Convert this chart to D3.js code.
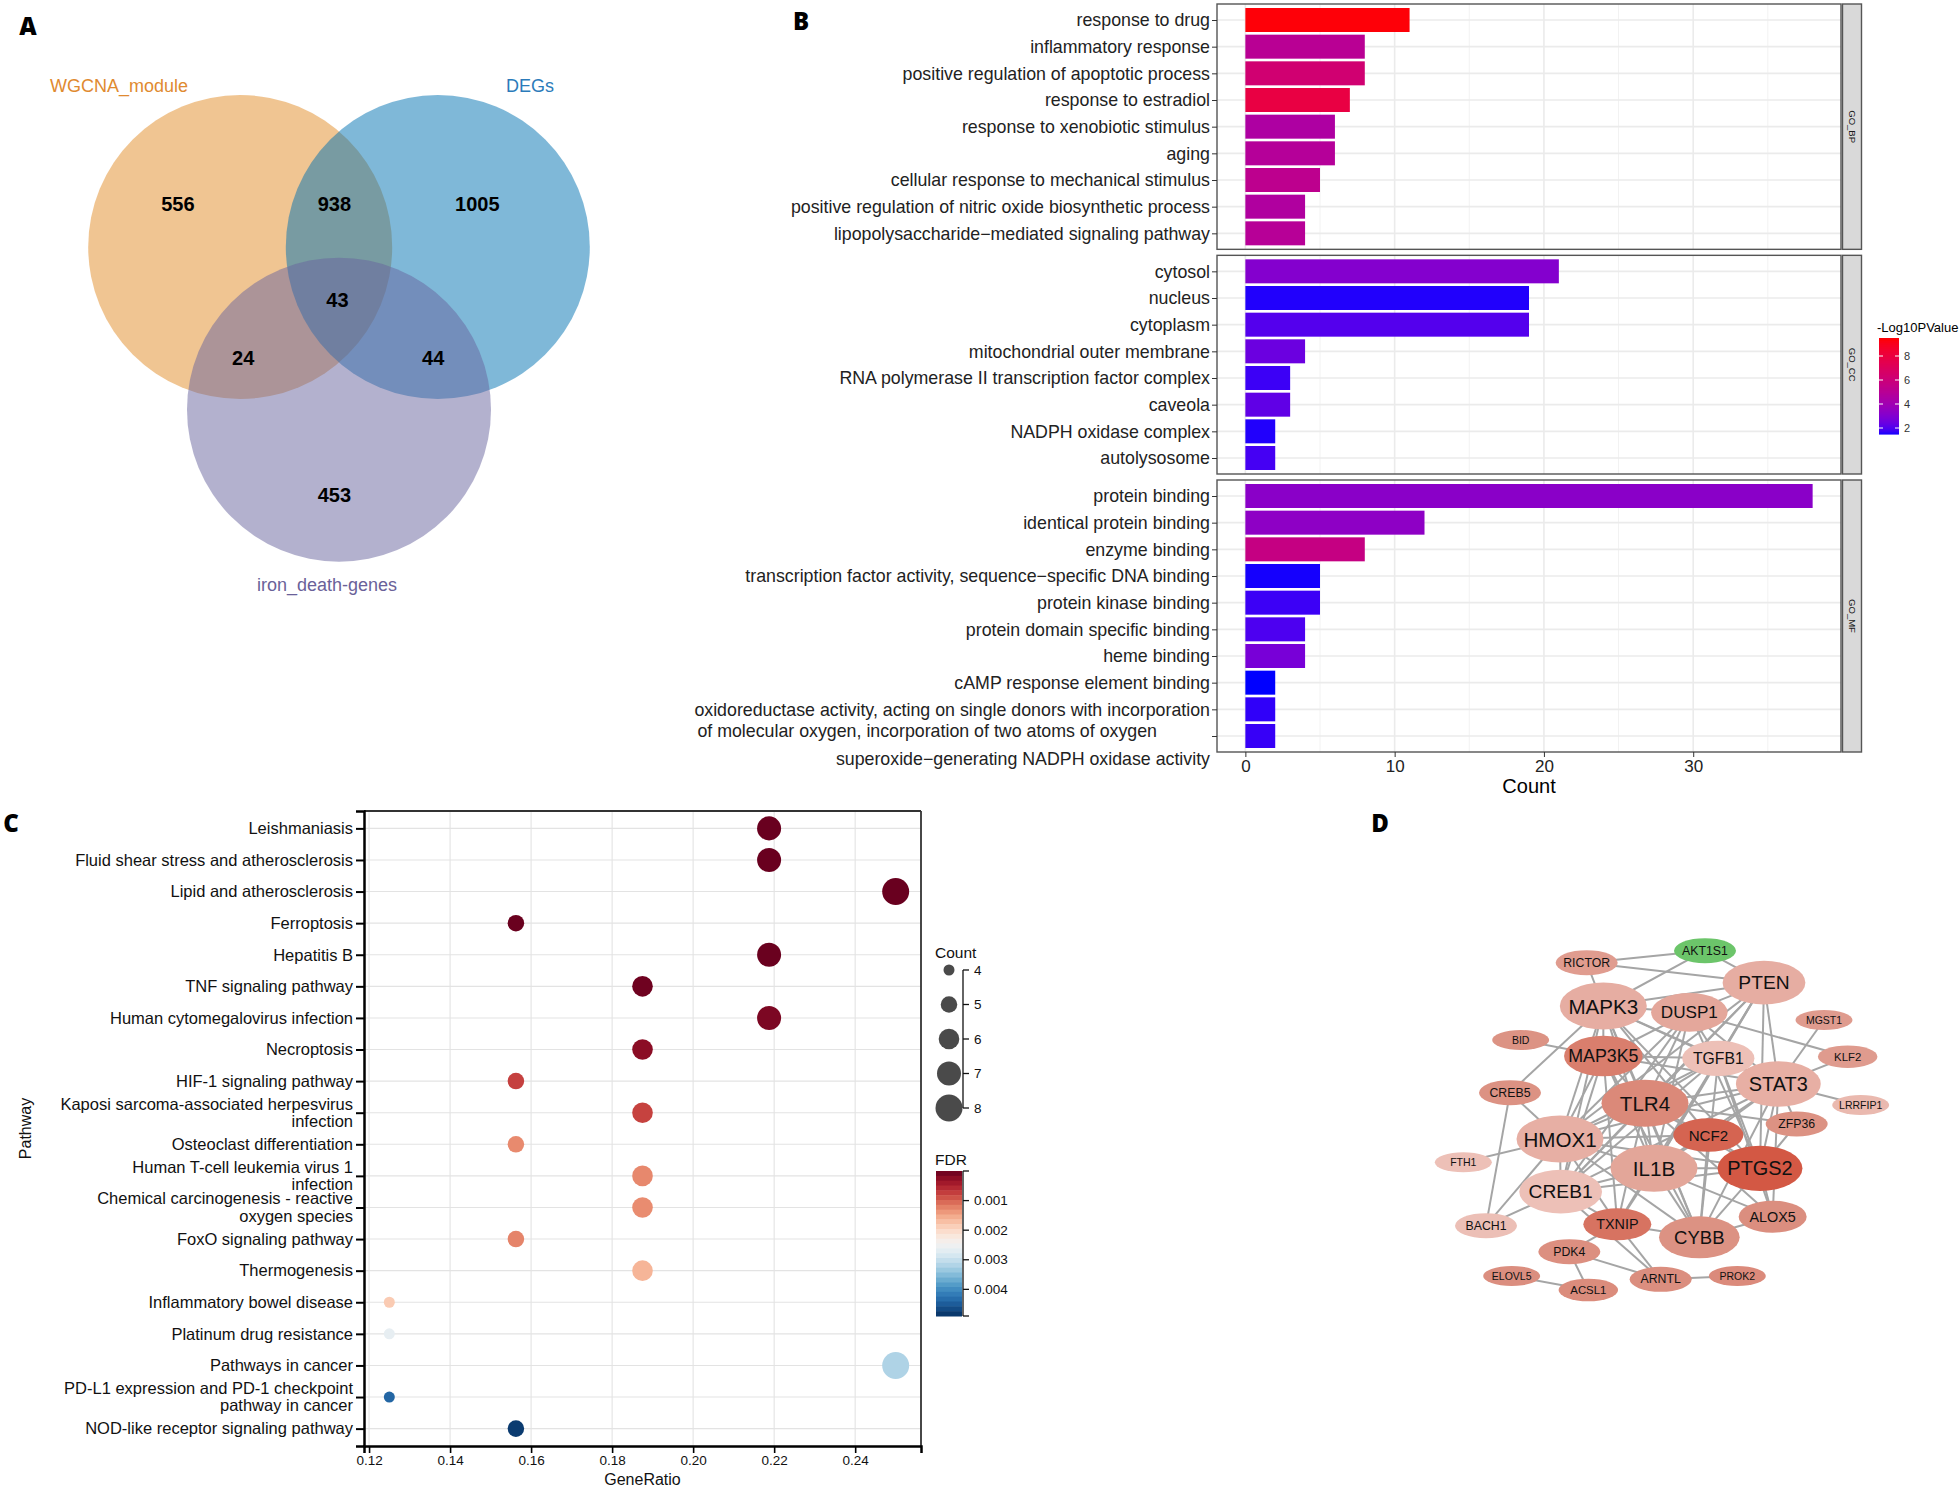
<!DOCTYPE html>
<html><head><meta charset="utf-8">
<script src="https://cdn.jsdelivr.net/npm/d3@7/dist/d3.min.js"></script>
<style>body{margin:0;background:#fff}svg{display:block}</style>
</head><body>
<svg id="chart" width="1960" height="1487"></svg>
<script>
// ================= DATA =================
// Panel A (Venn)
const vennSetNames = ["WGCNA_module", "DEGs", "iron_death-genes"];
const vennRegionCounts = [556, 938, 1005, 24, 43, 44, 453];
// Panel B (GO enrichment)
const bpTerms = ["response to drug","inflammatory response","positive regulation of apoptotic process","response to estradiol","response to xenobiotic stimulus","aging","cellular response to mechanical stimulus","positive regulation of nitric oxide biosynthetic process","lipopolysaccharide\u2212mediated signaling pathway"];
const bpCount = [11, 8, 8, 7, 6, 6, 5, 4, 4];
const bpLogP = [9.4, 5.1, 6.3, 7.9, 4.6, 4.9, 5.3, 4.7, 5.0];
const ccTerms = ["cytosol","nucleus","cytoplasm","mitochondrial outer membrane","RNA polymerase II transcription factor complex","caveola","NADPH oxidase complex","autolysosome"];
const ccCount = [21, 19, 19, 4, 3, 3, 2, 2];
const ccLogP = [3.1, 1.6, 2.1, 2.5, 1.8, 2.3, 1.6, 1.9];
const mfTerms = ["protein binding","identical protein binding","enzyme binding","transcription factor activity, sequence\u2212specific DNA binding","protein kinase binding","protein domain specific binding","heme binding","cAMP response element binding","oxidoreductase activity, acting on single donors with incorporation\nof molecular oxygen, incorporation of two atoms of oxygen","superoxide\u2212generating NADPH oxidase activity"];
const mfCount = [38, 12, 8, 5, 5, 4, 4, 2, 2, 2];
const mfLogP = [3.3, 3.4, 5.7, 1.55, 1.8, 2.0, 2.8, 1.5, 1.7, 1.75];
const countTicks = [0, 10, 20, 30];
const logpTicks = [2, 4, 6, 8];
// Panel C (KEGG dot plot)
const pathways = ["Leishmaniasis","Fluid shear stress and atherosclerosis","Lipid and atherosclerosis","Ferroptosis","Hepatitis B","TNF signaling pathway","Human cytomegalovirus infection","Necroptosis","HIF-1 signaling pathway","Kaposi sarcoma-associated herpesvirus\ninfection","Osteoclast differentiation","Human T-cell leukemia virus 1\ninfection","Chemical carcinogenesis - reactive\noxygen species","FoxO signaling pathway","Thermogenesis","Inflammatory bowel disease","Platinum drug resistance","Pathways in cancer","PD-L1 expression and PD-1 checkpoint\npathway in cancer","NOD-like receptor signaling pathway"];
const geneRatio = [0.21875,0.21875,0.25,0.15625,0.21875,0.1875,0.21875,0.1875,0.15625,0.1875,0.15625,0.1875,0.1875,0.15625,0.1875,0.125,0.125,0.25,0.125,0.15625];
const pathwayCount = [7,7,8,5,7,6,7,6,5,6,5,6,6,5,6,4,4,8,4,5];
const pathwayFDR = [0.00001,0.00001,0.00001,0.00002,0.00002,0.00005,0.00014,0.00024,0.00076,0.00077,0.00128,0.00127,0.0013,0.00124,0.00162,0.00183,0.00264,0.0032,0.0044,0.0048];
const ratioTicks = [0.12,0.14,0.16,0.18,0.20,0.22,0.24];
const countLegendValues = [4,5,6,7,8];
const fdrTicks = [0.001,0.002,0.003,0.004];
const fdrMax = 0.0049;
// Panel D (PPI network)
const geneNames = ["AKT1S1","RICTOR","PTEN","MAPK3","DUSP1","MGST1","BID","MAP3K5","TGFB1","KLF2","CREB5","STAT3","TLR4","LRRFIP1","ZFP36","NCF2","HMOX1","FTH1","IL1B","PTGS2","CREB1","ALOX5","BACH1","TXNIP","CYBB","PDK4","ELOVL5","ACSL1","ARNTL","PROK2"];
const geneDegree = [3,3,15,17,12,1,1,13,10,2,3,16,17,1,3,9,17,1,17,16,15,8,3,8,14,3,1,2,3,1];
const geneScore = [-1,0.4,0.24,0.24,0.3,0.41,0.49,0.66,0.06,0.41,0.5,0.22,0.57,0.125,0.5,0.86,0.22,0.06,0.31,0.95,0.06,0.53,0.07,0.74,0.5,0.52,0.53,0.55,0.53,0.56];
const geneLinks = [
 ["RICTOR","AKT1S1"],["RICTOR","PTEN"],["RICTOR","MAPK3"],["AKT1S1","MAPK3"],["AKT1S1","PTEN"],["BID","MAP3K5"],
 ["CREB5","MAPK3"],["CREB5","HMOX1"],["CREB5","BACH1"],["MGST1","STAT3"],["KLF2","STAT3"],["KLF2","DUSP1"],
 ["LRRFIP1","STAT3"],["ZFP36","STAT3"],["ZFP36","PTGS2"],["ZFP36","TLR4"],["FTH1","HMOX1"],["BACH1","HMOX1"],
 ["BACH1","CREB1"],["CREB1","ARNTL"],["TXNIP","PDK4"],["TXNIP","ARNTL"],["TXNIP","CYBB"],["PDK4","ACSL1"],
 ["PDK4","ARNTL"],["ELOVL5","ACSL1"],["ARNTL","PROK2"],
 ["MAPK3","DUSP1"],["MAPK3","PTEN"],["MAPK3","TGFB1"],["MAPK3","STAT3"],["MAPK3","TLR4"],["MAPK3","MAP3K5"],
 ["MAPK3","HMOX1"],["MAPK3","IL1B"],["MAPK3","PTGS2"],["MAPK3","CREB1"],["MAPK3","NCF2"],["MAPK3","CYBB"],
 ["DUSP1","PTEN"],["DUSP1","TLR4"],["DUSP1","IL1B"],["DUSP1","HMOX1"],["DUSP1","STAT3"],["DUSP1","PTGS2"],
 ["DUSP1","CREB1"],["DUSP1","TGFB1"],["DUSP1","MAP3K5"],
 ["PTEN","STAT3"],["PTEN","TGFB1"],["PTEN","TLR4"],["PTEN","IL1B"],["PTEN","HMOX1"],["PTEN","PTGS2"],
 ["PTEN","CREB1"],["PTEN","TXNIP"],
 ["MAP3K5","TLR4"],["MAP3K5","IL1B"],["MAP3K5","HMOX1"],["MAP3K5","TXNIP"],["MAP3K5","STAT3"],["MAP3K5","CYBB"],
 ["MAP3K5","CREB1"],["MAP3K5","TGFB1"],
 ["TGFB1","STAT3"],["TGFB1","TLR4"],["TGFB1","IL1B"],["TGFB1","HMOX1"],["TGFB1","PTGS2"],["TGFB1","CYBB"],
 ["TGFB1","CREB1"],["TGFB1","ALOX5"],
 ["STAT3","TLR4"],["STAT3","IL1B"],["STAT3","HMOX1"],["STAT3","PTGS2"],["STAT3","CREB1"],["STAT3","NCF2"],
 ["STAT3","ALOX5"],["STAT3","CYBB"],
 ["TLR4","IL1B"],["TLR4","HMOX1"],["TLR4","PTGS2"],["TLR4","NCF2"],["TLR4","CYBB"],["TLR4","CREB1"],
 ["TLR4","TXNIP"],["TLR4","ALOX5"],
 ["NCF2","CYBB"],["NCF2","IL1B"],["NCF2","HMOX1"],["NCF2","PTGS2"],
 ["HMOX1","IL1B"],["HMOX1","PTGS2"],["HMOX1","CREB1"],["HMOX1","TXNIP"],["HMOX1","CYBB"],
 ["IL1B","PTGS2"],["IL1B","CREB1"],["IL1B","TXNIP"],["IL1B","CYBB"],["IL1B","ALOX5"],
 ["PTGS2","CYBB"],["PTGS2","ALOX5"],["PTGS2","CREB1"],["CREB1","TXNIP"],["CYBB","ALOX5"]
];
// Network layout coordinates (Cytoscape layout units)
const geneLayoutX = [915,560,1092,610,868,1272,362,610,955,1343,330,1135,735,1382,1190,925,480,190,762,1080,482,1118,258,652,898,508,335,565,782,1012];
const geneLayoutY = [92,128,188,258,277,300,360,408,415,410,518,492,550,555,612,645,657,727,745,745,815,890,917,913,952,995,1068,1110,1078,1068];

// ================= DRAWING =================
const FONT = '"Liberation Sans", Arial, Helvetica, sans-serif';
const svg = d3.select("#chart").attr("font-family", FONT);

// Panel letters
const panelLetters = [["A",28,25],["B",801,20],["C",11,822],["D",1380,822]];
svg.selectAll("text.letter").data(panelLetters).join("text")
  .attr("class","letter").attr("x",d=>d[1]).attr("y",d=>d[2])
  .attr("text-anchor","middle").attr("dominant-baseline","central")
  .attr("font-family",'"Open Sans","DejaVu Sans",sans-serif').attr("font-weight",800)
  .attr("font-size",24).attr("fill","#000").text(d=>d[0]);

// ---------- Panel A ----------
(function(){
  const vennColors = ["#E18B25","#0072B2","#67639D"];
  const labelColors = ["#E08A30","#2B7BBA","#6A6199"];
  const circleLayout = [[-0.65,0],[0.65,0],[0,1.07]];
  const regionLayout = [[-1.06,-0.28],[-0.03,-0.28],[0.91,-0.28],[-0.63,0.73],[-0.01,0.35],[0.62,0.73],[-0.03,1.63]];
  const labelLayout = [[-1.447,-1.059],[1.257,-1.059],[-0.079,2.224]];
  const vx = d3.scaleLinear().domain([-1,1]).range([187,491]);
  const vy = d3.scaleLinear().domain([-1,1]).range([95,399]);
  const r = vx(1)-vx(0);
  const g = svg.append("g");
  g.selectAll("circle").data(vennSetNames).join("circle")
    .attr("cx",(d,i)=>vx(circleLayout[i][0])).attr("cy",(d,i)=>vy(circleLayout[i][1]))
    .attr("r",r).attr("fill",(d,i)=>vennColors[i]).attr("fill-opacity",0.5);
  g.selectAll("text.cnt").data(vennRegionCounts).join("text").attr("class","cnt")
    .attr("x",(d,i)=>vx(regionLayout[i][0])).attr("y",(d,i)=>vy(regionLayout[i][1]))
    .attr("text-anchor","middle").attr("dominant-baseline","central")
    .attr("font-weight","bold").attr("font-size",20).attr("fill","#000").text(d=>d);
  g.selectAll("text.setl").data(vennSetNames).join("text").attr("class","setl")
    .attr("x",(d,i)=>vx(labelLayout[i][0])).attr("y",(d,i)=>vy(labelLayout[i][1]))
    .attr("text-anchor","middle").attr("dominant-baseline","central")
    .attr("font-size",18).attr("fill",(d,i)=>labelColors[i]).text(d=>d);
})();

// ---------- Panel B ----------
(function(){
  const bx = d3.scaleLinear().domain([-1.9,39.9]).range([1217,1841]);
  const bColor = d3.scaleLinear().domain([1.5,9.5]).range(["#0000FF","#FF0000"]).interpolate(d3.interpolateLab);
  const facets = [
    {strip:"GO_BP",terms:bpTerms,count:bpCount,logp:bpLogP},
    {strip:"GO_CC",terms:ccTerms,count:ccCount,logp:ccLogP},
    {strip:"GO_MF",terms:mfTerms,count:mfCount,logp:mfLogP}];
  const bTop=4, bBottom=752, bGap=6;
  const totalSteps = d3.sum(facets,f=>f.terms.length+0.2);
  const step = (bBottom-bTop-bGap*(facets.length-1))/totalSteps;
  const [x0,x1] = bx.range();
  const LF = 17.8;
  let cursor = bTop;
  facets.forEach((f,fi)=>{
    const h = (f.terms.length+0.2)*step;
    const y = d3.scalePoint().domain(f.terms).range([cursor,cursor+h]).padding(0.6);
    const g = svg.append("g");
    g.append("rect").attr("x",x0).attr("y",cursor).attr("width",x1-x0).attr("height",h).attr("fill","#fff");
    g.selectAll("line.vmin").data([5,15,25,35]).join("line").attr("class","vmin")
      .attr("x1",d=>bx(d)).attr("x2",d=>bx(d)).attr("y1",cursor).attr("y2",cursor+h)
      .attr("stroke","#F2F2F2").attr("stroke-width",1);
    g.selectAll("line.vmaj").data(countTicks).join("line").attr("class","vmaj")
      .attr("x1",d=>bx(d)).attr("x2",d=>bx(d)).attr("y1",cursor).attr("y2",cursor+h)
      .attr("stroke","#EBEBEB").attr("stroke-width",1.6);
    g.selectAll("line.hmaj").data(f.terms).join("line").attr("class","hmaj")
      .attr("x1",x0).attr("x2",x1).attr("y1",d=>y(d)).attr("y2",d=>y(d))
      .attr("stroke","#EBEBEB").attr("stroke-width",1.6);
    g.selectAll("rect.bar").data(f.terms).join("rect").attr("class","bar")
      .attr("x",bx(0)).attr("y",d=>y(d)-0.45*step)
      .attr("width",(d,i)=>bx(f.count[i])-bx(0)).attr("height",0.9*step)
      .attr("fill",(d,i)=>bColor(f.logp[i]));
    g.append("rect").attr("x",x0).attr("y",cursor).attr("width",x1-x0).attr("height",h)
      .attr("fill","none").attr("stroke","#555").attr("stroke-width",1.4);
    g.append("rect").attr("x",x1+1.5).attr("y",cursor).attr("width",19).attr("height",h)
      .attr("fill","#D9D9D9").attr("stroke","#555").attr("stroke-width",1.4);
    g.append("text").attr("transform",`translate(${x1+11},${cursor+h/2}) rotate(90)`)
      .attr("text-anchor","middle").attr("dominant-baseline","central")
      .attr("font-size",9.5).attr("fill","#1a1a1a").text(f.strip);
    const ax = g.append("g").attr("transform",`translate(${x0},0)`)
      .call(d3.axisLeft(y).tickSize(5).tickPadding(2).tickFormat(d=>d.split("\n")[0]));
    ax.select(".domain").remove();
    ax.selectAll(".tick line").attr("stroke","#333");
    ax.selectAll(".tick text").attr("font-size",LF).attr("fill","#222").attr("font-family",FONT);
    ax.selectAll(".tick").each(function(d){
      const t = d3.select(this).select("text");
      const parts = d.split("\n");
      if(parts.length>1){
        const w = t.node().getComputedTextLength();
        d3.select(this).append("text").attr("x",-7-w+3).attr("y",21.5).attr("dy","0.32em")
          .attr("text-anchor","start").attr("font-size",LF).attr("fill","#222")
          .attr("font-family",FONT).text(parts[1]);
      }
      if(fi===facets.length-1 && d===f.terms[f.terms.length-1]) t.attr("y",23);
    });
    if(fi===facets.length-1){
      const xa = svg.append("g").attr("transform",`translate(0,${cursor+h})`)
        .call(d3.axisBottom(bx).tickValues(countTicks).tickSize(5).tickPadding(3));
      xa.select(".domain").remove();
      xa.selectAll(".tick line").attr("stroke","#333");
      xa.selectAll(".tick text").attr("font-size",17).attr("fill","#222").attr("font-family",FONT);
    }
    cursor += h+bGap;
  });
  svg.append("text").attr("x",(x0+x1)/2).attr("y",786).attr("text-anchor","middle")
    .attr("dominant-baseline","central").attr("font-size",20).attr("fill","#000").text("Count");
  const ly = d3.scaleLinear().domain([1.5,9.5]).range([434,338]);
  const lg = svg.append("g");
  lg.append("text").attr("x",1877).attr("y",327).attr("dominant-baseline","central")
    .attr("font-size",13).attr("fill","#000").text("-Log10PValue");
  const nb = 48, vals = d3.range(nb).map(i=>1.5+(i+0.5)*8/nb);
  lg.selectAll("rect.cb").data(vals).join("rect").attr("class","cb")
    .attr("x",1879).attr("width",20).attr("y",d=>ly(d+4/nb)).attr("height",ly(0)-ly(8/nb)+0.6)
    .attr("fill",d=>bColor(d));
  lg.selectAll("line.tl").data(logpTicks).join("line").attr("class","tl")
    .attr("x1",1879).attr("x2",1883).attr("y1",d=>ly(d)).attr("y2",d=>ly(d)).attr("stroke","#fff").attr("stroke-width",1);
  lg.selectAll("line.tr").data(logpTicks).join("line").attr("class","tr")
    .attr("x1",1895).attr("x2",1899).attr("y1",d=>ly(d)).attr("y2",d=>ly(d)).attr("stroke","#fff").attr("stroke-width",1);
  lg.selectAll("text.ll").data(logpTicks).join("text").attr("class","ll")
    .attr("x",1904).attr("y",d=>ly(d)).attr("dominant-baseline","central")
    .attr("font-size",11).attr("fill","#333").text(d=>d);
})();

// ---------- Panel C ----------
(function(){
  const cx = d3.scaleLinear().domain([0.11875,0.25625]).range([364,921]);
  const cy = d3.scalePoint().domain(pathways).range([811,1446]).padding(0.55);
  const cSize = d3.scaleRadial().domain([4,8]).range([5.5,13.5]);
  const cColor = d3.scaleSequential(d3.interpolateRdBu).domain([0,fdrMax]);
  const [x0,x1] = cx.range(), [y0,y1] = cy.range();
  const g = svg.append("g");
  g.selectAll("line.gv").data(ratioTicks).join("line").attr("class","gv")
    .attr("x1",d=>cx(d)).attr("x2",d=>cx(d)).attr("y1",y0).attr("y2",y1)
    .attr("stroke","#E3E3E3").attr("stroke-width",1.1);
  g.selectAll("line.gh").data(pathways).join("line").attr("class","gh")
    .attr("x1",x0).attr("x2",x1).attr("y1",d=>cy(d)).attr("y2",d=>cy(d))
    .attr("stroke","#E3E3E3").attr("stroke-width",1.1);
  g.selectAll("circle.dot").data(pathways).join("circle").attr("class","dot")
    .attr("cx",(d,i)=>cx(geneRatio[i])).attr("cy",d=>cy(d))
    .attr("r",(d,i)=>cSize(pathwayCount[i])).attr("fill",(d,i)=>cColor(pathwayFDR[i]));
  g.append("line").attr("x1",x0).attr("x2",x1).attr("y1",y0).attr("y2",y0).attr("stroke","#333").attr("stroke-width",1.8);
  g.append("line").attr("x1",x1).attr("x2",x1).attr("y1",y0).attr("y2",y1).attr("stroke","#333").attr("stroke-width",1.8);
  const ya = g.append("g").attr("transform",`translate(${x0},0)`).call(d3.axisLeft(cy).tickSize(8).tickPadding(3));
  ya.select(".domain").attr("stroke","#000").attr("stroke-width",2.5);
  ya.selectAll(".tick line").attr("stroke","#000").attr("stroke-width",2);
  ya.selectAll(".tick text").attr("font-size",16.5).attr("fill","#111").attr("font-family",FONT)
    .each(function(d){
      const parts = d.split("\n");
      if(parts.length>1){
        const t = d3.select(this), xx = t.attr("x");
        t.text(null).attr("dy",null);
        parts.forEach((p,i)=>t.append("tspan").attr("x",xx).attr("dy",i===0?"-0.22em":"1.06em").text(p));
      }
    });
  const xa = g.append("g").attr("transform",`translate(0,${y1})`)
    .call(d3.axisBottom(cx).tickValues(ratioTicks).tickFormat(d3.format(".2f")).tickSize(7).tickPadding(2));
  xa.select(".domain").attr("stroke","#000").attr("stroke-width",2.5);
  xa.selectAll(".tick line").attr("stroke","#000").attr("stroke-width",1.6);
  xa.selectAll(".tick text").attr("font-size",13.5).attr("fill","#111").attr("font-family",FONT);
  svg.append("text").attr("x",(x0+x1)/2).attr("y",1479).attr("text-anchor","middle").attr("dominant-baseline","central")
    .attr("font-size",16).attr("fill","#111").text("GeneRatio");
  svg.append("text").attr("transform",`translate(25,${(y0+y1)/2}) rotate(-90)`).attr("text-anchor","middle")
    .attr("dominant-baseline","central").attr("font-size",16).attr("fill","#111").text("Pathway");
  const sy = d3.scalePoint().domain(countLegendValues).range([970,1108]);
  const lg = svg.append("g");
  lg.append("text").attr("x",935).attr("y",952).attr("dominant-baseline","central").attr("font-size",15.5).attr("fill","#111").text("Count");
  lg.selectAll("circle").data(countLegendValues).join("circle").attr("cx",949).attr("cy",d=>sy(d))
    .attr("r",d=>cSize(d)).attr("fill","#4A4A4A");
  lg.append("line").attr("x1",963).attr("x2",963).attr("y1",sy(4)).attr("y2",sy(8)).attr("stroke","#111").attr("stroke-width",1.3);
  lg.selectAll("line.st").data(countLegendValues).join("line").attr("class","st")
    .attr("x1",963).attr("x2",969).attr("y1",d=>sy(d)).attr("y2",d=>sy(d)).attr("stroke","#111").attr("stroke-width",1.3);
  lg.selectAll("text.sl").data(countLegendValues).join("text").attr("class","sl")
    .attr("x",974).attr("y",d=>sy(d)).attr("dominant-baseline","central").attr("font-size",13.5).attr("fill","#111").text(d=>d);
  const fy = d3.scaleLinear().domain([0,fdrMax]).range([1171,1316]);
  lg.append("text").attr("x",935).attr("y",1159).attr("dominant-baseline","central").attr("font-size",15.5).attr("fill","#111").text("FDR");
  const nb = 30, bands = d3.range(nb).map(i=>(i+0.5)*fdrMax/nb);
  lg.selectAll("rect.fb").data(bands).join("rect").attr("class","fb")
    .attr("x",936).attr("width",26).attr("y",d=>fy(d-fdrMax/nb/2)).attr("height",fy(fdrMax/nb)-fy(0)+0.5)
    .attr("fill",d=>cColor(d));
  lg.append("line").attr("x1",963).attr("x2",963).attr("y1",fy(0)).attr("y2",fy(fdrMax)).attr("stroke","#111").attr("stroke-width",1.3);
  lg.selectAll("line.ft").data([0,...fdrTicks,fdrMax]).join("line").attr("class","ft")
    .attr("x1",963).attr("x2",969).attr("y1",d=>fy(d)).attr("y2",d=>fy(d)).attr("stroke","#111").attr("stroke-width",1.3);
  lg.selectAll("text.fl").data(fdrTicks).join("text").attr("class","fl")
    .attr("x",974).attr("y",d=>fy(d)).attr("dominant-baseline","central").attr("font-size",13.5).attr("fill","#111")
    .text(d=>d3.format(".3f")(d));
})();

// ---------- Panel D ----------
(function(){
  const dX = d3.scaleLinear().domain([0,1500]).range([1400,1900]);
  const dY = d3.scaleLinear().domain([0,1200]).range([920,1320]);
  const rxS = d3.scaleLinear().domain([1,3,8,17]).range([28.5,31,34,43.5]);
  const ryS = d3.scaleLinear().domain([1,3,8,17]).range([10,12.5,16,23.5]);
  const fsS = d3.scaleLinear().domain([1,3,8,17]).range([10.5,12.3,14.4,20.6]);
  const posColor = d3.scaleLinear().domain([0,0.5,1]).range(["#EFC6BE","#DC9283","#D2523D"]);
  const nodes = geneNames.map((name,i)=>({name, deg:geneDegree[i], score:geneScore[i], x:dX(geneLayoutX[i]), y:dY(geneLayoutY[i])}));
  const byName = new Map(nodes.map(n=>[n.name,n]));
  const g = svg.append("g");
  g.selectAll("line.edge").data(geneLinks).join("line").attr("class","edge")
    .attr("x1",d=>byName.get(d[0]).x).attr("y1",d=>byName.get(d[0]).y)
    .attr("x2",d=>byName.get(d[1]).x).attr("y2",d=>byName.get(d[1]).y)
    .attr("stroke","#A5A5A5").attr("stroke-width",2);
  g.selectAll("ellipse").data(nodes).join("ellipse")
    .attr("cx",d=>d.x).attr("cy",d=>d.y).attr("rx",d=>rxS(d.deg)).attr("ry",d=>ryS(d.deg))
    .attr("fill",d=>d.score<0?"#6CC56A":posColor(d.score));
  g.selectAll("text.node").data(nodes).join("text").attr("class","node")
    .attr("x",d=>d.x).attr("y",d=>d.y).attr("text-anchor","middle").attr("dominant-baseline","central")
    .attr("font-size",d=>fsS(d.deg)).attr("fill","#111").text(d=>d.name);
})();
</script>
</body></html>
